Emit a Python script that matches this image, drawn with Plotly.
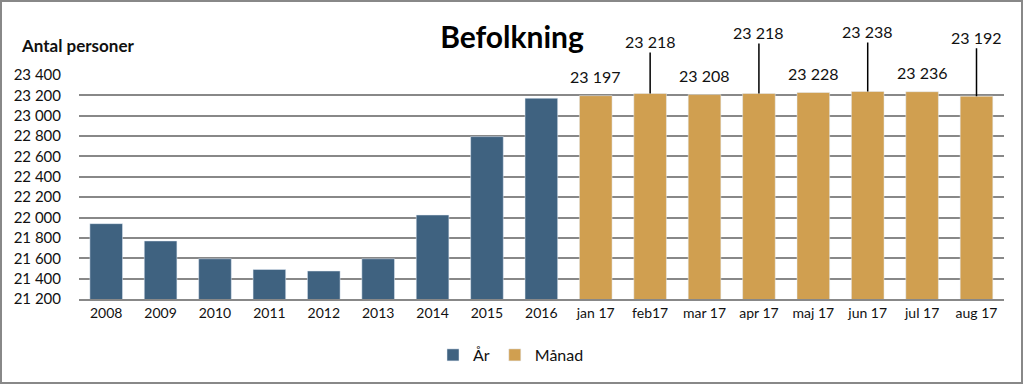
import plotly.graph_objects as go

categories = ["2008", "2009", "2010", "2011", "2012", "2013", "2014", "2015", "2016",
              "jan 17", "feb17", "mar 17", "apr 17", "maj 17", "jun 17", "jul 17", "aug 17"]
year_cats = categories[:9]
year_vals = [21940, 21770, 21595, 21490, 21475, 21595, 22025, 22795, 23172]
month_cats = categories[9:]
month_vals = [23197, 23218, 23208, 23218, 23228, 23238, 23236, 23192]
# label placement offsets (pixels above bar top) for monthly labels
month_label_offsets = [0, -52, 0, -61, 0, -60, 0, -59]
tick_vals = [21200, 21400, 21600, 21800, 22000, 22200, 22400, 22600, 22800, 23000, 23200, 23400]
tick_text = [f"{v:,}".replace(",", " ") for v in tick_vals]

BLUE = "#3F6280"
GOLD = "#D09F50"
FONT = "Lato, 'Open Sans', sans-serif"

W, H = 1024, 385
ml, mr, mt, mb = 79, 20, 75, 86
pw, ph = W - ml - mr, H - mt - mb

fig = go.Figure()
fig.add_trace(go.Bar(x=year_cats, y=year_vals, name="År", marker_color=BLUE, width=0.6))
fig.add_trace(go.Bar(x=month_cats, y=month_vals, name="Månad", marker_color=GOLD, width=0.6))

annotations = []
for c, v, off in zip(month_cats, month_vals, month_label_offsets):
    txt = f"{v:,}".replace(",", " ")
    if off == 0:
        annotations.append(dict(x=c, y=v, text=txt, showarrow=False, yanchor="middle", yshift=19,
                                 font=dict(family=FONT, size=16, color="#111")))
    else:
        annotations.append(dict(x=c, y=v, text=txt, showarrow=True, arrowhead=0, arrowwidth=1.5,
                                 arrowcolor="#000", ax=0, ay=off, standoff=0,
                                 font=dict(family=FONT, size=16, color="#111")))

annotations.append(dict(xref="paper", yref="paper", x=-60 / pw, y=1 + 29 / ph, text="<b>Antal personer</b>",
                        showarrow=False, xanchor="left", yanchor="middle",
                        font=dict(family=FONT, size=17, color="#111")))

fig.update_layout(
    width=W, height=H,
    margin=dict(l=ml, r=mr, t=mt, b=mb),
    paper_bgcolor="white", plot_bgcolor="white",
    barmode="overlay",
    title=dict(text="<b>Befolkning</b>", x=0.5, xref="container", xanchor="center", y=1 - 37 / H, yanchor="middle",
               font=dict(family=FONT, size=30, color="#000")),
    font=dict(family=FONT, size=14, color="#111"),
    xaxis=dict(type="category", categoryorder="array", categoryarray=categories,
               showgrid=False, showline=True, linecolor="#888", linewidth=1.5,
               tickfont=dict(family=FONT, size=14, color="#111"), ticks=""),
    yaxis=dict(range=[21200, 23400], tickvals=tick_vals, ticktext=tick_text,
               showgrid=True, gridcolor="#888", gridwidth=1.5, zeroline=False,
               tickfont=dict(family=FONT, size=15, color="#111"), ticks="", ticklabelstandoff=17),
    legend=dict(orientation="h", x=(511 - ml) / pw, xanchor="center", y=-56 / ph, yanchor="middle",
                font=dict(family=FONT, size=16, color="#111"), itemwidth=30, traceorder="normal"),
    annotations=annotations,
    shapes=[dict(type="rect", xref="paper", yref="paper",
                 x0=-(ml - 1) / pw, x1=1 + (mr - 2) / pw, y0=-(mb - 2) / ph, y1=1 + (mt - 1) / ph,
                 line=dict(color="#888", width=2), fillcolor="rgba(0,0,0,0)", layer="below")],
)

fig.write_html("out.html", config={"displayModeBar": False},
               post_script="document.body.style.margin='0';document.body.style.padding='0';")
